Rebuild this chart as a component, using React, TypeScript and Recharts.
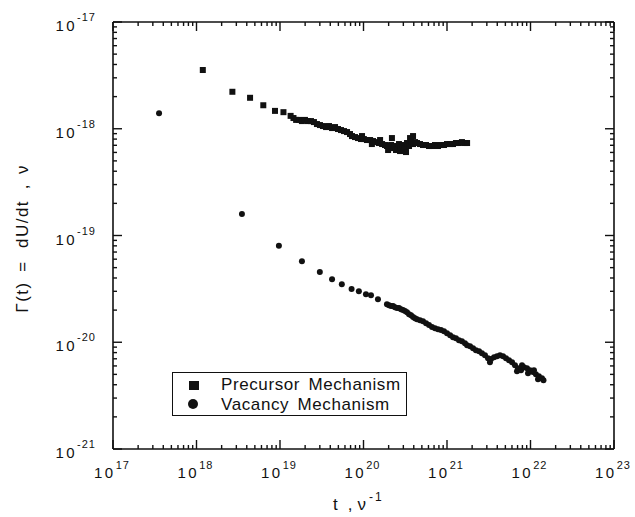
import { ScatterChart, Scatter, XAxis, YAxis, Legend } from "recharts";

// decades on each axis, and the exponent text printed next to them
const xExponents = [17, 18, 19, 20, 21, 22, 23];
const yExponents = [-21, -20, -19, -18, -17];
const minorSteps = [2, 3, 4, 5, 6, 7, 8, 9];

// Precursor mechanism: t (1/nu) and Gamma(t)
const precursorT = [
  1.19e18, 2.69e18, 4.38e18, 6.31e18, 8.71e18, 1.1e19, 1.34e19, 1.45e19,
  1.56e19, 1.69e19, 1.83e19, 1.99e19, 2.16e19, 2.35e19, 2.55e19, 2.77e19,
  3.01e19, 3.27e19, 3.56e19, 3.86e19, 4.2e19, 4.56e19, 4.95e19, 5.38e19,
  5.84e19, 6.35e19, 6.89e19, 7.28e19, 7.91e19, 8.59e19, 9.34e19, 9.6e19,
  1.01e20, 1.1e20, 1.2e20, 1.26e20, 1.3e20, 1.41e20, 1.53e20, 1.58e20,
  1.67e20, 1.81e20, 1.91e20, 1.97e20, 2.02e20, 2.14e20, 2.19e20, 2.26e20,
  2.38e20, 2.45e20, 2.52e20, 2.66e20, 2.74e20, 2.81e20, 2.97e20, 3.05e20,
  3.14e20, 3.23e20, 3.32e20, 3.51e20, 3.61e20, 3.71e20, 3.92e20, 3.92e20,
  4.14e20, 4.37e20, 4.75e20, 5.16e20, 5.61e20, 6.09e20, 6.61e20, 7.18e20,
  7.8e20, 8.47e20, 9.21e20, 1.0e21, 1.09e21, 1.18e21, 1.28e21, 1.39e21,
  1.51e21, 1.64e21, 1.74e21,
];
const precursorG = [
  3.55e-18, 2.22e-18, 1.95e-18, 1.66e-18, 1.47e-18, 1.43e-18, 1.32e-18, 1.26e-18,
  1.21e-18, 1.21e-18, 1.18e-18, 1.21e-18, 1.18e-18, 1.18e-18, 1.155e-18, 1.107e-18,
  1.083e-18, 1.06e-18, 1.037e-18, 1.06e-18, 1.015e-18, 1.037e-18, 9.94e-19, 9.72e-19,
  9.51e-19, 9.31e-19, 8.92e-19, 8.54e-19, 8.36e-19, 8.18e-19, 8.01e-19, 8.54e-19,
  8.01e-19, 7.84e-19, 7.84e-19, 7.19e-19, 7.67e-19, 7.5e-19, 7.35e-19, 7.84e-19,
  7.19e-19, 7.04e-19, 6.89e-19, 6.32e-19, 6.74e-19, 7.04e-19, 8.18e-19, 6.59e-19,
  6.89e-19, 6.32e-19, 6.45e-19, 7.19e-19, 6.18e-19, 6.74e-19, 7.04e-19, 6.32e-19,
  6.59e-19, 6.05e-19, 7.35e-19, 6.89e-19, 8.18e-19, 7.67e-19, 7.19e-19, 8.54e-19,
  7.5e-19, 7.35e-19, 7.19e-19, 7.04e-19, 7.04e-19, 6.89e-19, 6.89e-19, 7.04e-19,
  6.89e-19, 7.04e-19, 7.04e-19, 7.19e-19, 7.19e-19, 7.19e-19, 7.35e-19, 7.35e-19,
  7.5e-19, 7.35e-19, 7.35e-19,
];

// Vacancy mechanism
const vacancyT = [
  3.56e17, 3.5e18, 9.7e18, 1.83e19, 3.0e19, 4.2e19, 5.5e19, 7.2e19,
  8.8e19, 1.07e20, 1.23e20, 1.49e20, 1.91e20, 2.02e20, 2.14e20, 2.26e20,
  2.38e20, 2.52e20, 2.66e20, 2.81e20, 2.97e20, 3.14e20, 3.32e20, 3.51e20,
  3.71e20, 3.92e20, 4.14e20, 4.37e20, 4.75e20, 5.16e20, 5.61e20, 6.09e20,
  6.61e20, 7.18e20, 7.8e20, 8.47e20, 9.21e20, 1.0e21, 1.09e21, 1.18e21,
  1.28e21, 1.39e21, 1.51e21, 1.64e21, 1.74e21, 1.89e21, 2.05e21, 2.22e21,
  2.42e21, 2.62e21, 2.85e21, 3.1e21, 3.27e21, 3.37e21, 3.66e21, 3.97e21,
  4.31e21, 4.69e21, 5.09e21, 5.53e21, 6.01e21, 6.52e21, 6.89e21, 7.09e21,
  7.7e21, 7.91e21, 8.36e21, 9.08e21, 9.34e21, 9.86e21, 1.07e22, 1.1e22,
  1.16e22, 1.23e22, 1.26e22, 1.37e22, 1.43e22,
];
const vacancyG = [
  1.4e-18, 1.59e-19, 8.0e-20, 5.75e-20, 4.54e-20, 3.9e-20, 3.5e-20, 3.16e-20,
  3.01e-20, 2.82e-20, 2.76e-20, 2.53e-20, 2.275e-20, 2.227e-20, 2.18e-20, 2.18e-20,
  2.13e-20, 2.09e-20, 2.09e-20, 2.04e-20, 2.0e-20, 1.96e-20, 1.915e-20, 1.834e-20,
  1.795e-20, 1.72e-20, 1.682e-20, 1.646e-20, 1.611e-20, 1.577e-20, 1.51e-20, 1.447e-20,
  1.386e-20, 1.356e-20, 1.327e-20, 1.299e-20, 1.271e-20, 1.217e-20, 1.166e-20, 1.116e-20,
  1.092e-20, 1.046e-20, 1.024e-20, 9.81e-21, 9.39e-21, 9.19e-21, 8.8e-21, 8.43e-21,
  8.25e-21, 7.9e-21, 7.57e-21, 7.1e-21, 6.51e-21, 6.95e-21, 7.25e-21, 7.41e-21,
  7.57e-21, 7.41e-21, 7.1e-21, 6.8e-21, 6.51e-21, 6.1e-21, 5.36e-21, 5.72e-21,
  5.48e-21, 6.1e-21, 5.84e-21, 5.72e-21, 5.13e-21, 5.48e-21, 5.25e-21, 5.48e-21,
  5.02e-21, 4.51e-21, 4.81e-21, 4.61e-21, 4.41e-21,
];

const precursorData = precursorT.map((t, i) => ({ t, g: precursorG[i] }));
const vacancyData = vacancyT.map((t, i) => ({ t, g: vacancyG[i] }));

const FONT = "'Liberation Sans', Arial, Helvetica, sans-serif";
const X_MIN = 1e17;
const X_MAX = 1e23;
const Y_MIN = 1e-21;
const Y_MAX = 1e-17;

function logTicks(exps: number[]) {
  const out: number[] = [];
  exps.forEach((e, i) => {
    out.push(Math.pow(10, e));
    if (i < exps.length - 1) minorSteps.forEach((m) => out.push(m * Math.pow(10, e)));
  });
  return out;
}

const xTicks = logTicks(xExponents);
const yTicks = logTicks(yExponents);

// frame tick marks, placed on the frame edges through the chart's own scales
const bottomMarks = xTicks.map((t) => ({ t, g: Y_MIN }));
const topMarks = xTicks.map((t) => ({ t, g: Y_MAX }));
const leftMarks = yTicks.map((g) => ({ t: X_MIN, g }));
const rightMarks = yTicks.map((g) => ({ t: X_MAX, g }));

function isMajor(v: number) {
  const lg = Math.log10(v);
  return Math.abs(lg - Math.round(lg)) < 1e-6;
}

// marks point into the plot so the plot clip cannot hide them
function tickMark(dir: "down" | "up" | "left" | "right") {
  return (p: any) => {
    const v = dir === "down" || dir === "up" ? p.payload.t : p.payload.g;
    const len = isMajor(v) ? 9 : 4;
    let x2 = p.cx;
    let y2 = p.cy;
    if (dir === "down") y2 += len;
    if (dir === "up") y2 -= len;
    if (dir === "left") x2 -= len;
    if (dir === "right") x2 += len;
    return <line x1={p.cx} y1={p.cy} x2={x2} y2={y2} stroke="#111" strokeWidth={1.4} />;
  };
}

const bottomLabel = (p: any) => {
  if (!isMajor(p.payload.value)) return <g />;
  const exp = Math.round(Math.log10(p.payload.value));
  return (
    <text x={p.x - 1} y={p.y + 29} textAnchor="middle" fontFamily={FONT} fill="#111">
      <tspan fontSize={15} letterSpacing={2.5}>10</tspan>
      <tspan fontSize={11} dy={-9} letterSpacing={1}>{String(exp)}</tspan>
    </text>
  );
};

const leftLabel = (p: any) => {
  if (!isMajor(p.payload.value)) return <g />;
  const exp = Math.round(Math.log10(p.payload.value));
  return (
    <text x={p.x - 17} y={p.y + 9} textAnchor="end" fontFamily={FONT} fill="#111">
      <tspan fontSize={15} letterSpacing={2.5}>10</tspan>
      <tspan fontSize={11} dy={-10} letterSpacing={1}>{String(exp)}</tspan>
    </text>
  );
};

const SquareDot = (p: any) => (
  <rect x={p.cx - 3} y={p.cy - 3} width={6} height={6} fill="#111" />
);
const RoundDot = (p: any) => <circle cx={p.cx} cy={p.cy} r={3} fill="#111" />;

function XTitle() {
  return (
    <text x={333} y={510} fontFamily={FONT} fill="#111" fontSize={17}>
      <tspan>t</tspan>
      <tspan dx={10}>,</tspan>
      <tspan dx={5}>ν</tspan>
      <tspan dx={3} dy={-9} fontSize={12} letterSpacing={2}>-1</tspan>
    </text>
  );
}

function YTitle() {
  const parts: [string, number][] = [
    ["Γ(t)", 297],
    ["=", 266],
    ["dU/dt", 224],
    [",", 186],
    ["ν", 169],
  ];
  return (
    <g>
      {parts.map(([s, cy]) => (
        <text
          key={s}
          x={22}
          y={cy}
          transform={`rotate(-90, 22, ${cy})`}
          textAnchor="middle"
          dominantBaseline="central"
          fontFamily={FONT}
          fontSize={17}
          letterSpacing={1.5}
          fill="#111"
        >
          {s}
        </text>
      ))}
    </g>
  );
}

function LegendBox() {
  const text: React.CSSProperties = {
    position: "absolute",
    left: 48,
    fontFamily: FONT,
    fontSize: 17,
    lineHeight: "17px",
    letterSpacing: 0.6,
    wordSpacing: 3,
    color: "#111",
    whiteSpace: "nowrap",
  };
  return (
    <div
      style={{
        position: "relative",
        width: 235,
        height: 44,
        border: "1.5px solid #111",
        boxSizing: "border-box",
        background: "#fff",
      }}
    >
      <div style={{ position: "absolute", left: 16, top: 8, width: 10, height: 9, background: "#111" }} />
      <div style={{ ...text, top: 3 }}>Precursor Mechanism</div>
      <div
        style={{ position: "absolute", left: 15, top: 26, width: 10, height: 10, borderRadius: 5, background: "#111" }}
      />
      <div style={{ ...text, top: 23 }}>Vacancy Mechanism</div>
    </div>
  );
}

export default function App() {
  const axisLine = { stroke: "#111", strokeWidth: 1.6 };
  return (
    <div style={{ position: "absolute", left: 0, top: 0, background: "#fff" }}>
      <ScatterChart width={635} height={517} margin={{ top: 12, right: 11, left: 0, bottom: 0 }}>
        <XAxis
          xAxisId="b"
          dataKey="t"
          type="number"
          scale="log"
          domain={[X_MIN, X_MAX]}
          ticks={xTicks}
          interval={0}
          height={68}
          tickSize={0}
          tickMargin={0}
          tickLine={false}
          axisLine={axisLine}
          tick={bottomLabel}
          label={{ content: () => <XTitle /> }}
        />
        <XAxis
          xAxisId="t"
          orientation="top"
          dataKey="t"
          type="number"
          scale="log"
          domain={[X_MIN, X_MAX]}
          ticks={xTicks}
          height={10}
          tickLine={false}
          axisLine={axisLine}
          tick={false}
        />
        <YAxis
          yAxisId="l"
          dataKey="g"
          type="number"
          scale="log"
          domain={[Y_MIN, Y_MAX]}
          ticks={yTicks}
          interval={0}
          width={113}
          tickSize={0}
          tickMargin={0}
          tickLine={false}
          axisLine={axisLine}
          tick={leftLabel}
          label={{ content: () => <YTitle /> }}
        />
        <YAxis
          yAxisId="r"
          orientation="right"
          dataKey="g"
          type="number"
          scale="log"
          domain={[Y_MIN, Y_MAX]}
          ticks={yTicks}
          width={10}
          tickLine={false}
          axisLine={axisLine}
          tick={false}
        />
        <Legend
          layout="vertical"
          align="center"
          verticalAlign="middle"
          wrapperStyle={{ left: 172, top: 372, width: 235, height: 44 }}
          content={() => <LegendBox />}
        />
        <Scatter data={bottomMarks} xAxisId="b" yAxisId="l" shape={tickMark("up")} isAnimationActive={false} legendType="none" />
        <Scatter data={topMarks} xAxisId="b" yAxisId="l" shape={tickMark("down")} isAnimationActive={false} legendType="none" />
        <Scatter data={leftMarks} xAxisId="b" yAxisId="l" shape={tickMark("right")} isAnimationActive={false} legendType="none" />
        <Scatter data={rightMarks} xAxisId="b" yAxisId="l" shape={tickMark("left")} isAnimationActive={false} legendType="none" />
        <Scatter
          name="Precursor Mechanism"
          data={precursorData}
          xAxisId="b"
          yAxisId="l"
          shape={SquareDot}
          isAnimationActive={false}
        />
        <Scatter
          name="Vacancy Mechanism"
          data={vacancyData}
          xAxisId="b"
          yAxisId="l"
          shape={RoundDot}
          isAnimationActive={false}
        />
        <Scatter data={[]} xAxisId="t" yAxisId="r" isAnimationActive={false} />
      </ScatterChart>
    </div>
  );
}
